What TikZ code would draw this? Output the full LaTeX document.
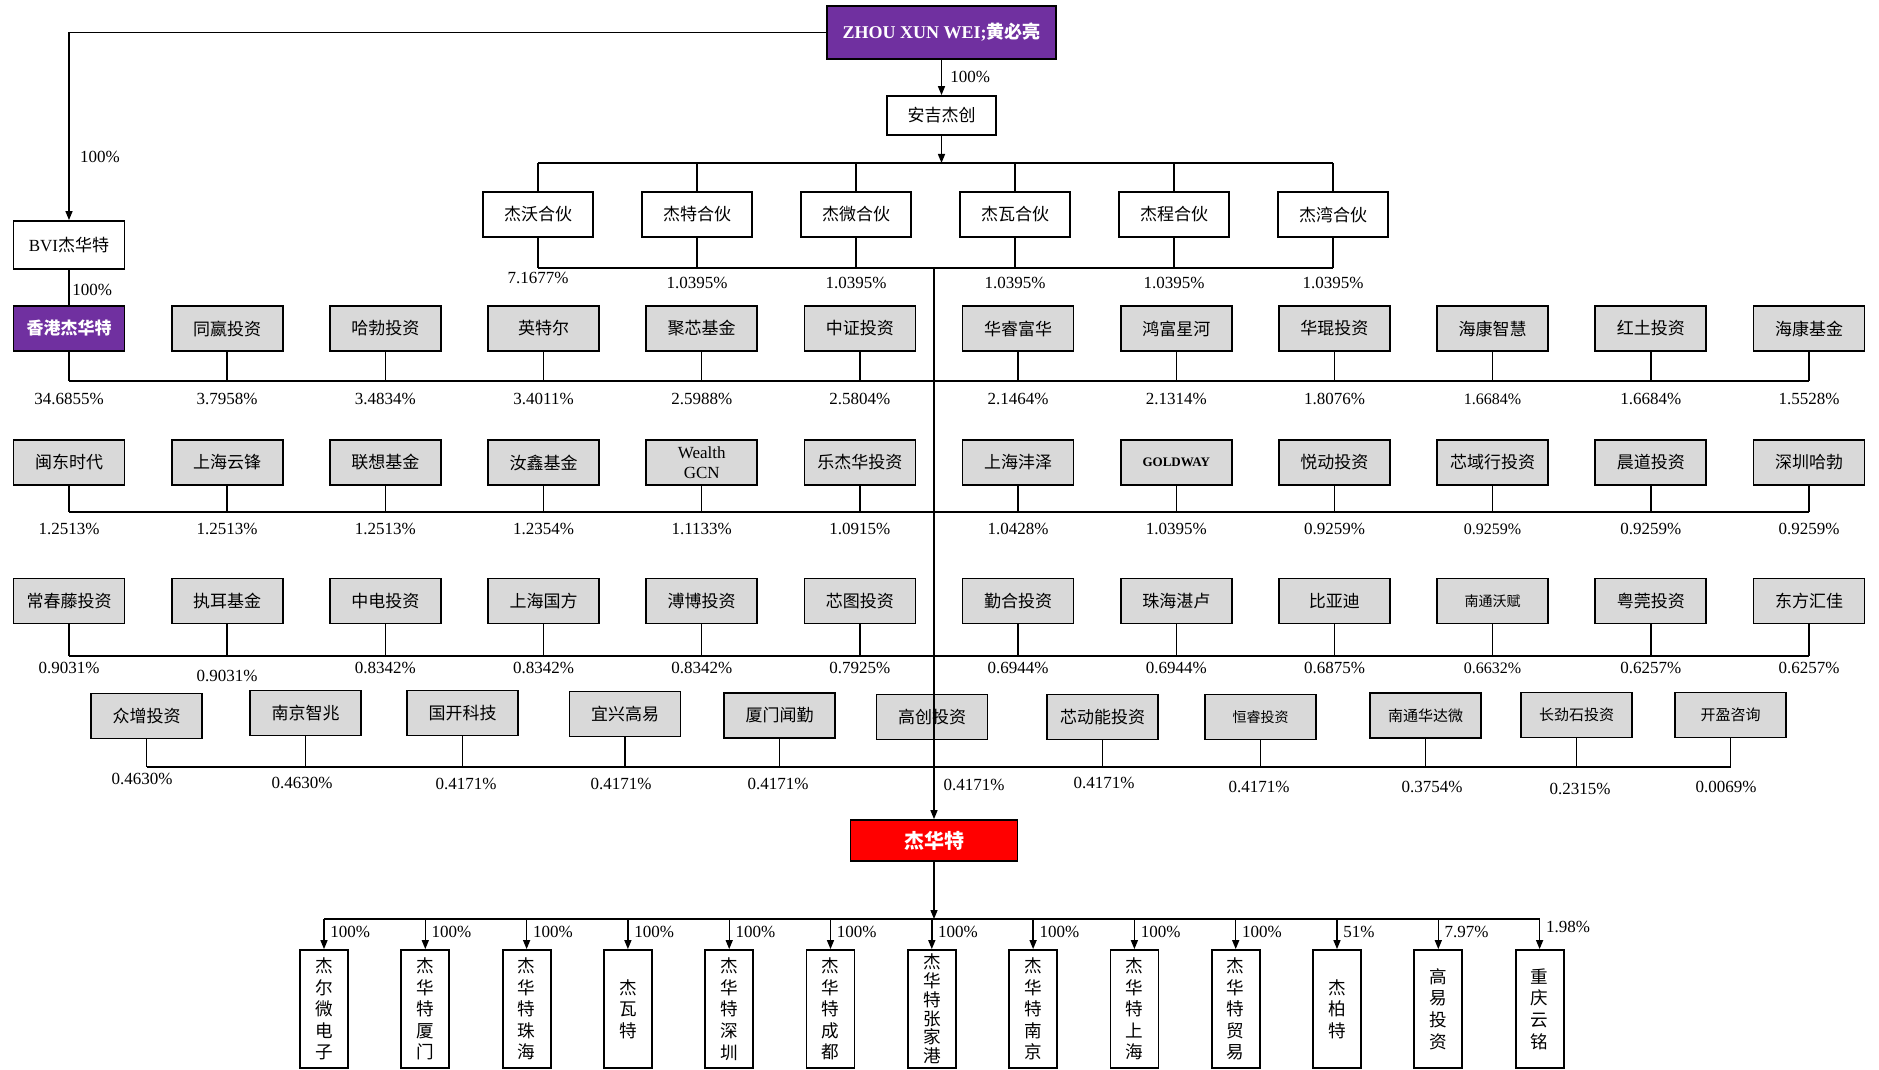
\documentclass[tikz,border=0pt]{standalone}
\usepackage{fontspec}
\setmainfont{Liberation Serif}
\newfontfamily\cjk{Noto Sans CJK SC}
\usetikzlibrary{arrows.meta}
\definecolor{zpurple}{HTML}{7030A0}
\definecolor{boxgray}{HTML}{D9D9D9}
\definecolor{zred}{HTML}{FF0000}
\begin{document}
\begin{tikzpicture}[x=0.5pt,y=-0.5pt,
 gbox/.style={draw, line width=0.9pt, fill=boxgray, minimum width=55.5pt, minimum height=22.5pt, inner sep=1pt, align=center, font=\cjk\fontsize{8.5}{10}\selectfont},
 wbox/.style={gbox, fill=white},
 pct/.style={inner sep=0pt, font=\fontsize{8.5}{10}\selectfont},
 ln/.style={line width=0.7pt},
 arr/.style={ln, -{Triangle[length=4.5pt,width=3.5pt]}},
 kbox/.style={draw, line width=0.9pt, fill=white, minimum width=24pt, minimum height=59pt, inner sep=0pt},
 vtext/.style={inner sep=0pt, align=center, font=\cjk\fontsize{9}{10.8}\selectfont}
]
\fill[white] (0,0) rectangle (1879,1070);
\useasboundingbox (0,0) rectangle (1879,1070);

% ---------- top ----------
\node[gbox, fill=zpurple, text=white, minimum width=114.5pt, minimum height=26.5pt, font=\bfseries\fontsize{9}{11}\selectfont] (zxw) at (941.5,32.5) {ZHOU XUN WEI;{\cjk\bfseries 黄必亮}};
\node[wbox, minimum width=54.5pt, minimum height=19.5pt] (aj) at (941.5,115.5) {安吉杰创};
\draw[arr] (zxw) -- (aj);
\node[pct, anchor=west] (l0) at (950,77) {100\%};

% partners
\foreach \i/\t in {1/杰沃合伙,2/杰特合伙,3/杰微合伙,4/杰瓦合伙,5/杰程合伙,6/杰湾合伙}{
  \node[wbox, minimum width=55pt] (p\i) at ({538+(\i-1)*159},214.5) {\t};
}
\coordinate (pb1) at (0,163);
\coordinate (pb2) at (0,268);
\draw[arr] (aj) -- (aj |- pb1);
\draw[ln] (p1 |- pb1) -- (p6 |- pb1);
\draw[ln] (p1 |- pb2) -- (p6 |- pb2);
\foreach \i in {1,...,6}{
  \draw[ln] (p\i |- pb1) -- (p\i.north);
  \draw[ln] (p\i.south) -- (p\i |- pb2);
}
\node[pct] (pl1) at (538,278) {7.1677\%};
\foreach \i in {2,...,6}{
  \node[pct] (pl\i) at ({538+(\i-1)*159},283) {1.0395\%};
}

% BVI
\node[wbox, minimum height=24pt] (bvi) at (69,245) {{\rmfamily BVI}杰华特};
\draw[arr] (zxw.west) -| (bvi.north);
\node[pct] (l1) at (100,157) {100\%};

% ---------- row 1 ----------
\node[gbox, fill=zpurple, text=white, font=\cjk\bfseries\fontsize{8.5}{10}\selectfont] (r1c1) at (69,328.5) {香港杰华特};
\draw[ln] (bvi.south) -- (bvi.south |- r1c1.north);
\node[pct, anchor=west] (l2) at (72,290) {100\%};
\foreach \i/\t in {2/同嬴投资,3/哈勃投资,4/英特尔,5/聚芯基金,6/中证投资,7/华睿富华,8/鸿富星河,9/华琨投资,10/海康智慧,11/红土投资,12/海康基金}{
  \node[gbox] (r1c\i) at ({69+(\i-1)*158.18},328.5) {\t};
}
\coordinate (b1) at (0,381);
\draw[ln] (r1c1 |- b1) -- (r1c12 |- b1);
\foreach \i in {1,...,12}{ \draw[ln] (r1c\i.south) -- (r1c\i.south |- b1); }
\foreach \i/\p/\fs in {1/34.6855\%/8.5,2/3.7958\%/8.5,3/3.4834\%/8.5,4/3.4011\%/8.5,5/2.5988\%/8.5,6/2.5804\%/8.5,7/2.1464\%/8.5,8/2.1314\%/8.5,9/1.8076\%/8.5,10/1.6684\%/8,11/1.6684\%/8.5,12/1.5528\%/8.5}{
  \node[pct, font=\fontsize{\fs}{10}\selectfont] (r1p\i) at ({69+(\i-1)*158.18},399) {\p};
}

% ---------- row 2 ----------
\foreach \i/\t in {1/闽东时代,2/上海云锋,3/联想基金,4/汝鑫基金,6/乐杰华投资,7/上海沣泽,9/悦动投资,10/芯域行投资,11/晨道投资,12/深圳哈勃}{
  \node[gbox] (r2c\i) at ({69+(\i-1)*158.18},462.5) {\t};
}
\node[gbox, font=\fontsize{8.5}{10}\selectfont] (r2c5) at ({69+4*158.18},462.5) {Wealth\\GCN};
\node[gbox, font=\bfseries\fontsize{6.5}{8}\selectfont] (r2c8) at ({69+7*158.18},462.5) {GOLDWAY};
\coordinate (b2) at (0,512);
\draw[ln] (r2c1 |- b2) -- (r2c12 |- b2);
\foreach \i in {1,...,12}{ \draw[ln] (r2c\i.south) -- (r2c\i.south |- b2); }
\foreach \i/\p/\fs in {1/1.2513\%/8.5,2/1.2513\%/8.5,3/1.2513\%/8.5,4/1.2354\%/8.5,5/1.1133\%/8.5,6/1.0915\%/8.5,7/1.0428\%/8.5,8/1.0395\%/8.5,9/0.9259\%/8.5,10/0.9259\%/8,11/0.9259\%/8.5,12/0.9259\%/8.5}{
  \node[pct, font=\fontsize{\fs}{10}\selectfont] (r2p\i) at ({69+(\i-1)*158.18},529) {\p};
}

% ---------- row 3 ----------
\foreach \i/\t/\fs in {1/常春藤投资/8.5,2/执耳基金/8.5,3/中电投资/8.5,4/上海国方/8.5,5/溥博投资/8.5,6/芯图投资/8.5,7/勤合投资/8.5,8/珠海湛卢/8.5,9/比亚迪/8.5,10/南通沃赋/7,11/粤莞投资/8.5,12/东方汇佳/8.5}{
  \node[gbox, font=\cjk\fontsize{\fs}{10}\selectfont] (r3c\i) at ({69+(\i-1)*158.18},601) {\t};
}
\coordinate (b3) at (0,656);
\draw[ln] (r3c1 |- b3) -- (r3c12 |- b3);
\foreach \i in {1,...,12}{ \draw[ln] (r3c\i.south) -- (r3c\i.south |- b3); }
\foreach \i/\p/\fs/\yy in {1/0.9031\%/8.5/668,2/0.9031\%/8.5/676,3/0.8342\%/8.5/668,4/0.8342\%/8.5/668,5/0.8342\%/8.5/668,6/0.7925\%/8.5/668,7/0.6944\%/8.5/668,8/0.6944\%/8.5/668,9/0.6875\%/8.5/668,10/0.6632\%/8/668,11/0.6257\%/8.5/668,12/0.6257\%/8.5/668}{
  \node[pct, font=\fontsize{\fs}{10}\selectfont] (r3p\i) at ({69+(\i-1)*158.18},\yy) {\p};
}

% ---------- row 4 ----------
\node[gbox] (q1) at (146.5,716) {众增投资};
\node[gbox] (q2) at (305.5,713) {南京智兆};
\node[gbox] (q3) at (462.5,713) {国开科技};
\node[gbox] (q4) at (625,714) {宜兴高易};
\node[gbox] (q5) at (779.5,715.5) {厦门闻勤};
\node[gbox] (q6) at (932,717) {高创投资};
\node[gbox] (q7) at (1102.5,717) {芯动能投资};
\node[gbox, font=\cjk\fontsize{7}{9}\selectfont] (q8) at (1260.5,717) {恒睿投资};
\node[gbox, font=\cjk\fontsize{7.5}{9}\selectfont] (q9) at (1425.5,715.5) {南通华达微};
\node[gbox, font=\cjk\fontsize{7.5}{9}\selectfont] (q10) at (1576.5,715) {长劲石投资};
\node[gbox, font=\cjk\fontsize{7.5}{9}\selectfont] (q11) at (1730.5,715) {开盈咨询};
\coordinate (b4) at (0,767);
\draw[ln] (q1 |- b4) -- (q11 |- b4);
\foreach \i in {1,2,3,4,5,7,8,9,10,11}{ \draw[ln] (q\i.south) -- (q\i.south |- b4); }
\node[pct] (qp1) at (142,779) {0.4630\%};
\node[pct] (qp2) at (302,783) {0.4630\%};
\node[pct] (qp3) at (466,784) {0.4171\%};
\node[pct] (qp4) at (621,784) {0.4171\%};
\node[pct] (qp5) at (778,784) {0.4171\%};
\node[pct] (qp6) at (974,785) {0.4171\%};
\node[pct] (qp7) at (1104,783) {0.4171\%};
\node[pct] (qp8) at (1259,787) {0.4171\%};
\node[pct] (qp9) at (1432,787) {0.3754\%};
\node[pct] (qp10) at (1580,789) {0.2315\%};
\node[pct] (qp11) at (1726,787) {0.0069\%};

% ---------- issuer ----------
\node[gbox, fill=zred, text=white, minimum width=83.5pt, minimum height=20.5pt, font=\cjk\bfseries\fontsize{10}{12}\selectfont] (jht) at (934,840.5) {杰华特};
\draw[arr] (jht |- pb2) -- (jht.north);

% ---------- subsidiaries ----------
\foreach \i/\t/\ls in {1/杰\\尔\\微\\电\\子/10.8,2/杰\\华\\特\\厦\\门/10.8,3/杰\\华\\特\\珠\\海/10.8,4/杰\\瓦\\特/10.8,5/杰\\华\\特\\深\\圳/10.8,6/杰\\华\\特\\成\\都/10.8,7/杰\\华\\特\\张\\家\\港/9.4,8/杰\\华\\特\\南\\京/10.8,9/杰\\华\\特\\上\\海/10.8,10/杰\\华\\特\\贸\\易/10.8,11/杰\\柏\\特/10.8,12/高\\易\\投\\资/10.8,13/重\\庆\\云\\铭/10.8}{
  \node[kbox] (k\i) at ({324+(\i-1)*101.3},1009) {};
  \node[vtext, font=\cjk\fontsize{8.8}{\ls}\selectfont] (kt\i) at (k\i) {\t};
}
\coordinate (kb) at (0,919);
\draw[arr] (jht.south) -- (jht.south |- kb);
\draw[ln] (k1 |- kb) -- (k13 |- kb);
\foreach \i/\p/\yy in {1/100\%/932,2/100\%/932,3/100\%/932,4/100\%/932,5/100\%/932,6/100\%/932,7/100\%/932,8/100\%/932,9/100\%/932,10/100\%/932,11/51\%/932,12/7.97\%/932,13/1.98\%/927}{
  \draw[arr] (k\i |- kb) -- (k\i.north);
  \node[pct, anchor=west] (kl\i) at ({324+(\i-1)*101.3+6},\yy) {\p};
}
\end{tikzpicture}
\end{document}
